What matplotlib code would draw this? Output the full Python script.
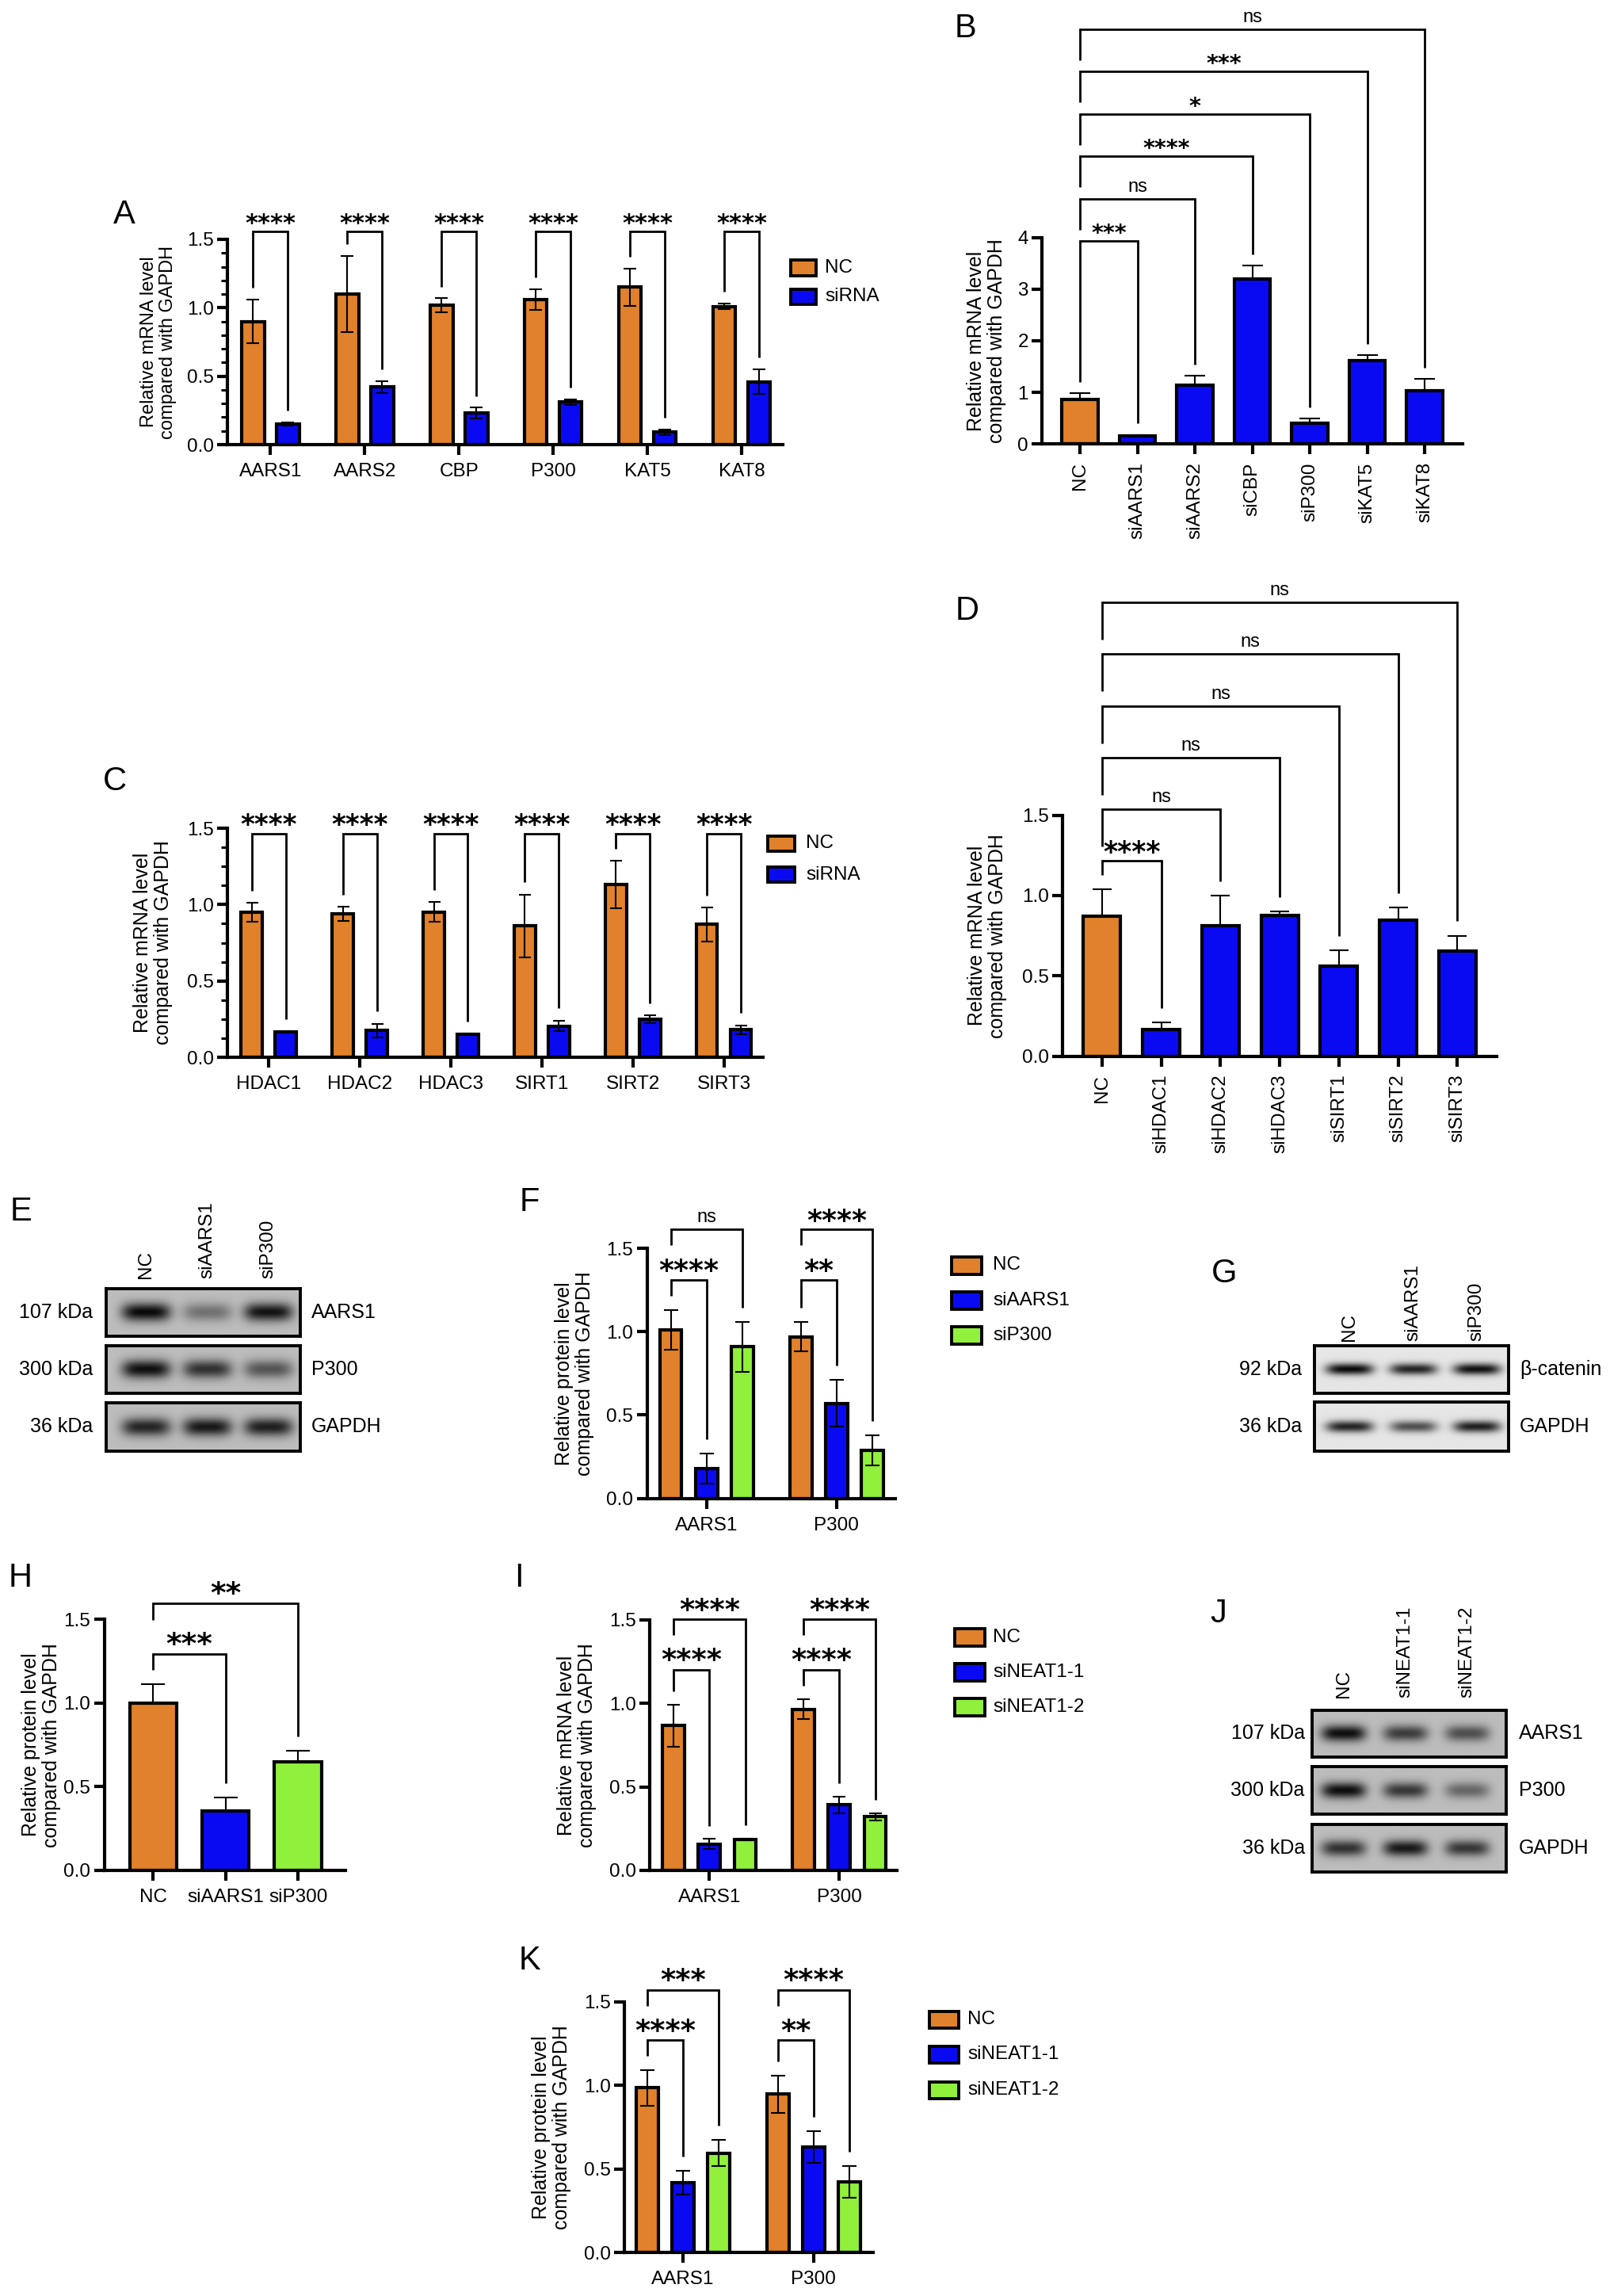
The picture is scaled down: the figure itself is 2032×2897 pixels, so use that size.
import numpy as np
import matplotlib
matplotlib.use("Agg")
import matplotlib.pyplot as plt
from matplotlib.patches import Rectangle
from matplotlib.ticker import MultipleLocator, FormatStrFormatter

plt.rcParams["font.family"] = ["Liberation Sans", "DejaVu Sans"]

W, H = 2032, 2897
ORANGE = "#E1812B"
BLUE = "#0A0AF2"
GREEN = "#90F03C"

# ---------------- data ----------------
# A: writers, NC vs siRNA
a_genes = ["AARS1", "AARS2", "CBP", "P300", "KAT5", "KAT8"]
a_nc = [0.90, 1.10, 1.02, 1.06, 1.15, 1.01]
a_nc_err = [0.16, 0.28, 0.05, 0.075, 0.135, 0.02]
a_si = [0.15, 0.42, 0.23, 0.31, 0.09, 0.46]
a_si_err = [0.012, 0.045, 0.04, 0.02, 0.02, 0.09]
a_sig = ["****"] * 6

# B
b_groups = ["NC", "siAARS1", "siAARS2", "siCBP", "siP300", "siKAT5", "siKAT8"]
b_vals = [0.87, 0.16, 1.14, 3.20, 0.41, 1.61, 1.03]
b_errs = [0.11, 0.02, 0.18, 0.25, 0.085, 0.115, 0.23]
b_sig = ["***", "ns", "****", "*", "***", "ns"]

# C: erasers, NC vs siRNA
c_genes = ["HDAC1", "HDAC2", "HDAC3", "SIRT1", "SIRT2", "SIRT3"]
c_nc = [0.95, 0.94, 0.95, 0.86, 1.13, 0.87]
c_nc_err = [0.06, 0.045, 0.065, 0.205, 0.155, 0.11]
c_si = [0.165, 0.175, 0.15, 0.205, 0.25, 0.18]
c_si_err = [0.006, 0.045, 0.005, 0.035, 0.025, 0.03]
c_sig = ["****"] * 6

# D
d_groups = ["NC", "siHDAC1", "siHDAC2", "siHDAC3", "siSIRT1", "siSIRT2", "siSIRT3"]
d_vals = [0.87, 0.165, 0.81, 0.875, 0.56, 0.845, 0.655]
d_errs = [0.17, 0.045, 0.19, 0.025, 0.10, 0.08, 0.095]
d_sig = ["****", "ns", "ns", "ns", "ns", "ns"]

# E: western blot (band darkness 0-1, rows x lanes)
e_lanes = ["NC", "siAARS1", "siP300"]
e_targets = ["AARS1", "P300", "GAPDH"]
e_kda = ["107 kDa", "300 kDa", "36 kDa"]
e_bands = [[1.0, 0.42, 0.95], [0.97, 0.78, 0.58], [0.85, 0.92, 0.88]]

# F
f_targets = ["AARS1", "P300"]
f_series = ["NC", "siAARS1", "siP300"]
f_vals = [[1.01, 0.97], [0.18, 0.57], [0.91, 0.29]]
f_errs = [[0.12, 0.09], [0.09, 0.14], [0.15, 0.09]]
f_sig_low = ["****", "**"]
f_sig_high = ["ns", "****"]

# G: western blot
g_lanes = ["NC", "siAARS1", "siP300"]
g_targets = ["β-catenin", "GAPDH"]
g_kda = ["92 kDa", "36 kDa"]
g_bands = [[1.0, 0.88, 0.97], [0.88, 0.68, 0.9]]

# H
h_groups = ["NC", "siAARS1", "siP300"]
h_vals = [1.00, 0.355, 0.647]
h_errs = [0.115, 0.08, 0.07]
h_sig = ["***", "**"]

# I
i_targets = ["AARS1", "P300"]
i_series = ["NC", "siNEAT1-1", "siNEAT1-2"]
i_vals = [[0.867, 0.965], [0.158, 0.392], [0.185, 0.321]]
i_errs = [[0.125, 0.06], [0.03, 0.05], [0.006, 0.02]]
i_sig_low = ["****", "****"]
i_sig_high = ["****", "****"]

# J: western blot
j_lanes = ["NC", "siNEAT1-1", "siNEAT1-2"]
j_targets = ["AARS1", "P300", "GAPDH"]
j_kda = ["107 kDa", "300 kDa", "36 kDa"]
j_bands = [[0.98, 0.72, 0.62], [0.98, 0.75, 0.48], [0.78, 0.92, 0.75]]

# K
k_targets = ["AARS1", "P300"]
k_series = ["NC", "siNEAT1-1", "siNEAT1-2"]
k_vals = [[0.986, 0.948], [0.419, 0.631], [0.596, 0.422]]
k_errs = [[0.105, 0.11], [0.07, 0.095], [0.08, 0.095]]
k_sig_low = ["****", "**"]
k_sig_high = ["***", "****"]

fig = plt.figure(figsize=(W / 100, H / 100), dpi=100)

LW = 3.0  # axis / bar outline width


def axes_px(left, top, right, bottom):
    return fig.add_axes([left / W, 1 - bottom / H, (right - left) / W, (bottom - top) / H])


def style_axes(ax, xlim, ymax, ystep, minor=None, fmt="%.1f"):
    for s in ("top", "right"):
        ax.spines[s].set_visible(False)
    for s in ("left", "bottom"):
        ax.spines[s].set_linewidth(LW)
    ax.set_xlim(*xlim)
    ax.set_ylim(0, ymax)
    ax.yaxis.set_major_locator(MultipleLocator(ystep))
    ax.yaxis.set_major_formatter(FormatStrFormatter(fmt))
    if minor:
        ax.yaxis.set_minor_locator(MultipleLocator(minor))
    ax.tick_params(which="major", width=LW, length=9.5, labelsize=17.5)
    ax.tick_params(which="minor", width=2.2, length=5.5)
    ax.tick_params(axis="y", pad=3)
    ax.tick_params(axis="x", pad=7)
    ax.set_facecolor("none")


def bracket(ax, x1, x2, level, y1, y2, label, star_size):
    ax.plot([x1, x1, x2, x2], [y1, level, level, y2], color="black", lw=2.0,
            clip_on=False, solid_joinstyle="miter", solid_capstyle="butt", zorder=5)
    xm = (x1 + x2) / 2
    if label == "ns":
        ax.annotate("ns", (xm, level), xytext=(0, 6.5), textcoords="offset points",
                    ha="center", va="baseline", fontsize=17, annotation_clip=False)
    else:
        ax.annotate(label, (xm, level), xytext=(0, 0.5), textcoords="offset points",
                    ha="center", va="baseline", fontsize=star_size, fontweight="bold",
                    family="DejaVu Sans", annotation_clip=False)


def comparisons(ax, xs, tops, pairs, levels, labels, gap, star_size, stack_leg=None):
    for (i, j), lev, lab in zip(pairs, levels, labels):
        lower = [l for (p, _), l in zip(pairs, levels) if p == i and l < lev]
        if lower:
            y1 = lev - stack_leg if stack_leg else max(lower) + gap
        else:
            y1 = tops[i] + gap
        bracket(ax, xs[i], xs[j], lev, y1, tops[j] + gap, lab, star_size)


def grouped(ax, vals, errs, colors, offsets, width, capsize):
    base = np.arange(len(vals[0]))
    for v, e, col, off in zip(vals, errs, colors, offsets):
        ax.bar(base + off, v, width, color=col, edgecolor="black", linewidth=LW, zorder=2)
        ax.errorbar(base + off, v, yerr=e, fmt="none", ecolor="black", elinewidth=1.5,
                    capsize=capsize, capthick=1.5, zorder=3)


def single(ax, vals, errs, colors, width, capsize):
    x = np.arange(len(vals))
    ax.bar(x, vals, width, color=colors, edgecolor="black", linewidth=LW, zorder=2)
    ax.errorbar(x, vals, yerr=[np.zeros(len(errs)), errs], fmt="none", ecolor="black",
                elinewidth=1.5, capsize=capsize, capthick=1.5, zorder=3)
    return x, np.array(vals) + np.array(errs)


def ylabel(x, ax_top, ax_bottom, text, fs=18):
    fig.text(x / W, 1 - (ax_top + ax_bottom) / 2 / H, text, rotation=90, ha="center",
             va="center", multialignment="center", fontsize=fs, linespacing=1.1)


def legend(labels, colors, x0, x1, ycs, h, text_x, fs=17.5):
    for lab, col, yc in zip(labels, colors, ycs):
        fig.add_artist(Rectangle((x0 / W, 1 - (yc + h / 2) / H), (x1 - x0) / W, h / H,
                                 transform=fig.transFigure, facecolor=col,
                                 edgecolor="black", lw=2.8))
        fig.text(text_x / W, 1 - yc / H, lab, ha="left", va="center", fontsize=fs)


def panel_letter(letter, x, y_base):
    fig.text(x / W, 1 - y_base / H, letter, ha="center", va="baseline", fontsize=30)


def grouped_panel(rect, xlim, vals, errs, colors, offsets, width, capsize, targets,
                  levels, sig_low, sig_high, gap, star_size, stack_leg):
    ax = axes_px(*rect)
    style_axes(ax, xlim, 1.5, 0.5)
    grouped(ax, vals, errs, colors, offsets, width, capsize)
    ax.set_xticks(range(len(targets)))
    ax.set_xticklabels(targets)
    for g in range(len(targets)):
        xs = [g + o for o in offsets]
        tops = [vals[s][g] + errs[s][g] for s in range(len(vals))]
        comparisons(ax, xs, tops, [(0, 1), (0, 2)], levels, [sig_low[g], sig_high[g]],
                    gap, star_size, stack_leg)
    return ax


def blot(left, right, rows, lane0, lane_step, lanes, targets, kda, bands, bg, sigma,
         half, lane_label_bottom, kda_x, target_x):
    x0 = (left - lane0) / lane_step
    x1 = (right - lane0) / lane_step
    X, Y = np.meshgrid(np.linspace(x0, x1, 500), np.linspace(0, 1, 120))
    for (top, bottom), target, kd, inten in zip(rows, targets, kda, bands):
        ax = axes_px(left, top, right, bottom)
        img = np.full(X.shape, bg)
        for k, d in enumerate(inten):
            prof = np.exp(-((X - k) / half) ** 4) * np.exp(-((Y - 0.5) / sigma) ** 2)
            img = img - (bg - 0.04) * d * prof
        ax.imshow(np.clip(img, 0, 1), cmap="gray", vmin=0, vmax=1, extent=(x0, x1, 0, 1),
                  aspect="auto", origin="lower", interpolation="bilinear")
        ax.set_xticks([])
        ax.set_yticks([])
        for s in ax.spines.values():
            s.set_linewidth(2.8)
        yc = 1 - (top + bottom) / 2 / H
        fig.text(kda_x / W, yc, kd, ha="right", va="center", fontsize=18)
        fig.text(target_x / W, yc, target, ha="left", va="center", fontsize=18)
    for k, name in enumerate(lanes):
        fig.text((lane0 + k * lane_step) / W, 1 - lane_label_bottom / H, name, rotation=90,
                 ha="center", va="bottom", fontsize=17.5)


# ---------------- A ----------------
ax = axes_px(287, 302, 988, 561)
style_axes(ax, (-0.458, 5.437), 1.5, 0.5, minor=0.1)
grouped(ax, [a_nc, a_si], [a_nc_err, a_si_err], [ORANGE, BLUE], [-0.185, 0.185], 0.24, 5.8)
ax.set_xticks(range(len(a_genes)))
ax.set_xticklabels(a_genes)
for i in range(len(a_genes)):
    bracket(ax, i - 0.185, i + 0.185, 1.56, a_nc[i] + a_nc_err[i] + 0.085,
            a_si[i] + a_si_err[i] + 0.085, a_sig[i], 22)
ylabel(200, 302, 561, "Relative mRNA level\ncompared with GAPDH", 17)
legend(["NC", "siRNA"], [ORANGE, BLUE], 998, 1030, [338, 374.5], 19, 1041)
panel_letter("A", 157, 282)

# ---------------- B ----------------
ax = axes_px(1315.4, 299.5, 1846, 560.4)
style_axes(ax, (-0.657, 6.66), 4, 1, fmt="%d")
x, tops = single(ax, b_vals, b_errs, [ORANGE] + [BLUE] * 6, 0.63, 9.4)
ax.set_xticks(x)
ax.set_xticklabels(b_groups, rotation=90)
comparisons(ax, x, tops, [(0, j) for j in range(1, 7)], 3.93 + 0.82 * np.arange(6),
            b_sig, 0.22, 20.5)
ylabel(1245, 299.5, 560.4, "Relative mRNA level\ncompared with GAPDH")
panel_letter("B", 1219, 47)

# ---------------- C ----------------
ax = axes_px(287, 1045, 963, 1334)
style_axes(ax, (-0.455, 5.43), 1.5, 0.5, minor=0.125)
grouped(ax, [c_nc, c_si], [c_nc_err, c_si_err], [ORANGE, BLUE], [-0.187, 0.187], 0.232, 5.4)
ax.set_xticks(range(len(c_genes)))
ax.set_xticklabels(c_genes)
for i in range(len(c_genes)):
    bracket(ax, i - 0.187, i + 0.187, 1.465, c_nc[i] + c_nc_err[i] + 0.08,
            c_si[i] + c_si_err[i] + 0.08, c_sig[i], 24.5)
ylabel(193, 1045, 1334, "Relative mRNA level\ncompared with GAPDH")
legend(["NC", "siRNA"], [ORANGE, BLUE], 969, 1003, [1064, 1103.5], 19, 1017)
panel_letter("C", 145, 997)

# ---------------- D ----------------
ax = axes_px(1341.4, 1028.6, 1888.7, 1332.6)
style_axes(ax, (-0.663, 6.66), 1.5, 0.5)
x, tops = single(ax, d_vals, d_errs, [ORANGE] + [BLUE] * 6, 0.63, 8.7)
ax.set_xticks(x)
ax.set_xticklabels(d_groups, rotation=90)
comparisons(ax, x, tops, [(0, j) for j in range(1, 7)], 1.215 + 0.322 * np.arange(6),
            d_sig, 0.09, 25)
ylabel(1246, 1028.6, 1332.6, "Relative mRNA level\ncompared with GAPDH")
panel_letter("D", 1221, 782)

# ---------------- E ----------------
blot(134, 378.5, [(1625.7, 1686), (1697.7, 1758.3), (1770, 1830.7)], 184.4, 77.1,
     e_lanes, e_targets, e_kda, e_bands, 0.74, 0.19, 0.40, 1613, 117, 393)
panel_letter("E", 26, 1540)

# ---------------- F ----------------
grouped_panel((816.5, 1575, 1130, 1890.7), (-0.458, 1.452), f_vals, f_errs,
              [ORANGE, BLUE, GREEN], [-0.275, 0, 0.275], 0.17, 6.8, f_targets,
              [1.31, 1.612], f_sig_low, f_sig_high, 0.085, 26, 0.095)
ylabel(725, 1575, 1890.7, "Relative protein level\ncompared with GAPDH")
legend(f_series, [ORANGE, BLUE, GREEN], 1201, 1239, [1596.5, 1641, 1685], 22, 1253)
panel_letter("F", 668, 1528)

# ---------------- G ----------------
blot(1658.5, 1903.8, [(1697.7, 1758.3), (1769, 1830.7)], 1702.7, 80.3,
     g_lanes, g_targets, g_kda, g_bands, 0.90, 0.12, 0.37, 1691.7, 1643.6, 1918)
panel_letter("G", 1545, 1618)

# ---------------- H ----------------
ax = axes_px(131.7, 2043.3, 436.4, 2360)
style_axes(ax, (-0.675, 2.66), 1.5, 0.5)
x, tops = single(ax, h_vals, h_errs, [ORANGE, BLUE, GREEN], 0.65, 10.5)
ax.set_xticks(x)
ax.set_xticklabels(h_groups)
comparisons(ax, x, tops, [(0, 1), (0, 2)], [1.295, 1.598], h_sig, 0.085, 27, 0.1)
ylabel(52, 2043.3, 2360, "Relative protein level\ncompared with GAPDH")
panel_letter("H", 26, 2002)

# ---------------- I ----------------
grouped_panel((820, 2044, 1132.4, 2360), (-0.46, 1.445), i_vals, i_errs,
              [ORANGE, BLUE, GREEN], [-0.275, 0, 0.275], 0.17, 6.0, i_targets,
              [1.203, 1.503], i_sig_low, i_sig_high, 0.08, 26.5, 0.095)
ylabel(728, 2044, 2360, "Relative mRNA level\ncompared with GAPDH")
legend(i_series, [ORANGE, BLUE, GREEN], 1205, 1243, [2066, 2110, 2154], 22, 1253)
panel_letter("I", 655, 2002)

# ---------------- J ----------------
blot(1656, 1900.6, [(2157.7, 2217.3), (2229.3, 2289.3), (2301.7, 2361.7)], 1695.7, 78,
     j_lanes, j_targets, j_kda, j_bands, 0.74, 0.17, 0.36, 2141.7, 1646.8, 1916.8)
panel_letter("J", 1538, 2047)

# ---------------- K ----------------
grouped_panel((788, 2526, 1101.7, 2842.3), (-0.45, 1.455), k_vals, k_errs,
              [ORANGE, BLUE, GREEN], [-0.273, 0, 0.273], 0.17, 6.5, k_targets,
              [1.271, 1.573], k_sig_low, k_sig_high, 0.085, 26.5, 0.095)
ylabel(696, 2526, 2842.3, "Relative protein level\ncompared with GAPDH")
legend(k_series, [ORANGE, BLUE, GREEN], 1173, 1210, [2548, 2592.5, 2637], 21, 1221)
panel_letter("K", 668, 2485)

fig.savefig("out.png", dpi=100, facecolor="white")
